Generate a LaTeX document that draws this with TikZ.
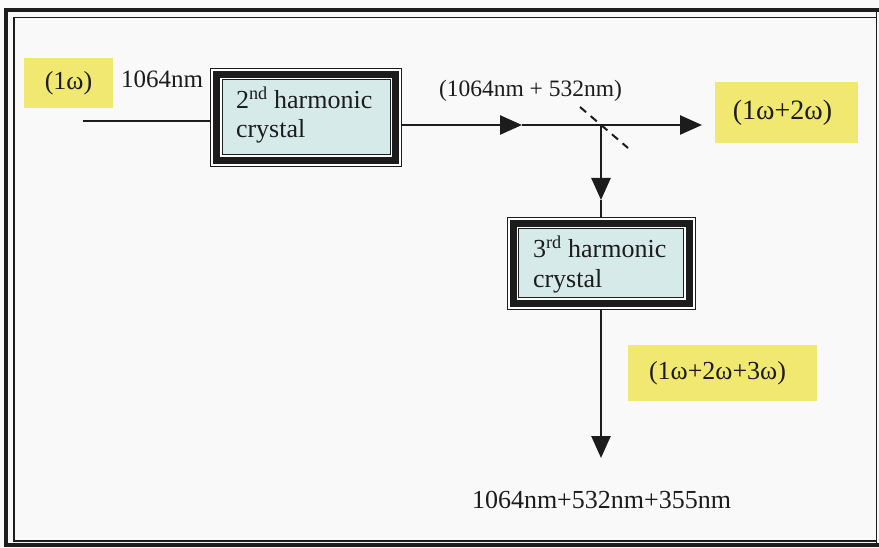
\documentclass[tikz,border=0pt]{standalone}
\usepackage{fontspec}
\setmainfont{Liberation Serif}
\usetikzlibrary{arrows.meta,calc}
\definecolor{bg}{RGB}{249,249,249}
\definecolor{ylw}{RGB}{240,232,112}
\definecolor{cry}{RGB}{214,234,234}
\definecolor{ink}{RGB}{28,28,28}
\tikzset{
  ybox/.style={fill=ylw, draw=none, inner sep=0pt, outer sep=0pt, text=ink},
  beam/.style={line width=2.6pt, draw=ink},
  tipped/.style={-{Triangle[length=22pt,width=19pt]}},
  lbl/.style={inner sep=0pt, outer sep=0pt, text=ink},
  crybox/.style={fill=white, draw=none, inner sep=0pt, outer sep=0pt},
}
\newcommand\crystalframe[1]{%
  \draw[line width=1pt, ink] ([shift={(0.5,0.5)}]#1.north west) rectangle ([shift={(-0.5,-0.5)}]#1.south east);
  \draw[line width=7pt, ink] ([shift={(6.5,6.5)}]#1.north west) rectangle ([shift={(-6.5,-6.5)}]#1.south east);
  \draw[line width=1pt, ink, fill=cry] ([shift={(12,12)}]#1.north west) rectangle ([shift={(-12,-12)}]#1.south east);
}
\begin{document}
\begin{tikzpicture}[x=1pt,y=-1pt]
\useasboundingbox (0,0) rectangle (879,548);
\fill[bg] (0,0) rectangle (879,548);
% frame
\draw[line width=4pt, ink] (879,10.5) -- (5.5,10.5) -- (5.5,545) -- (879,545);
\draw[line width=1.2pt, ink] (876,17.5) -- (14,17.5) -- (14,541) -- (876,541);
\draw[line width=1.5pt, ink] (876.5,10) -- (876.5,545);

% crystals
\node[crybox, minimum width=192, minimum height=99] (b2) at (306,117.5) {};
\crystalframe{b2}
\node[lbl, anchor=base west, font=\fontsize{26}{29}\selectfont] (b2a) at (236,109) {2\textsuperscript{nd} harmonic};
\node[lbl, anchor=base west, font=\fontsize{26}{29}\selectfont] (b2b) at (236,138) {crystal};

\node[crybox, minimum width=189, minimum height=93] (b3) at (601,263.5) {};
\crystalframe{b3}
\node[lbl, anchor=base west, font=\fontsize{26}{29}\selectfont] (b3a) at (533,258) {3\textsuperscript{rd} harmonic};
\node[lbl, anchor=base west, font=\fontsize{26}{29}\selectfont] (b3b) at (533,288) {crystal};

% yellow labels
\node[ybox, minimum width=89, minimum height=50, font=\fontsize{26}{29}\selectfont] (y1) at (68.5,83) {(1ω)};
\node[ybox, minimum width=143, minimum height=61, font=\fontsize{28}{31}\selectfont, xshift=0pt] (y2) at (786.5,112.5) {\hspace*{-8pt}(1ω+2ω)};
\node[ybox, minimum width=189, minimum height=56, font=\fontsize{26}{29}\selectfont] (y3) at (722.5,373) {\hspace*{-10pt}(1ω+2ω+3ω)};

% text labels
\node[lbl, anchor=base west, font=\fontsize{25}{28}\selectfont] (l1) at (121,88) {1064nm};
\node[lbl, anchor=base west, font=\fontsize{23.5}{27}\selectfont] (l2) at (439,97) {(1064nm + 532nm)};
\node[lbl, anchor=base west, font=\fontsize{26}{30}\selectfont] (l3) at (472,508) {1064nm+532nm+355nm};

% beam coordinates
\coordinate (in) at (83,121);
\coordinate (j) at (601,125);
\coordinate (m1) at (522,125);
\coordinate (e1) at (702,125);
\coordinate (m2) at (601,200);
\coordinate (e2) at (601,458);
\coordinate (s1) at (580,107);
\coordinate (s2) at (628,148);

\draw[line width=2pt, ink] (in) -- (b2.west |- in);
\draw[beam, tipped] (b2.east |- j) -- (m1);
\draw[beam, tipped] (m1) -- (e1);
\draw[beam, tipped] (j) -- (m2);
\draw[beam] (m2) -- (b3.north);
\draw[beam, tipped] (b3.south) -- (e2);
\draw[line width=2pt, ink, dash pattern=on 8pt off 6pt] (s1) -- (s2);
\end{tikzpicture}
\end{document}
